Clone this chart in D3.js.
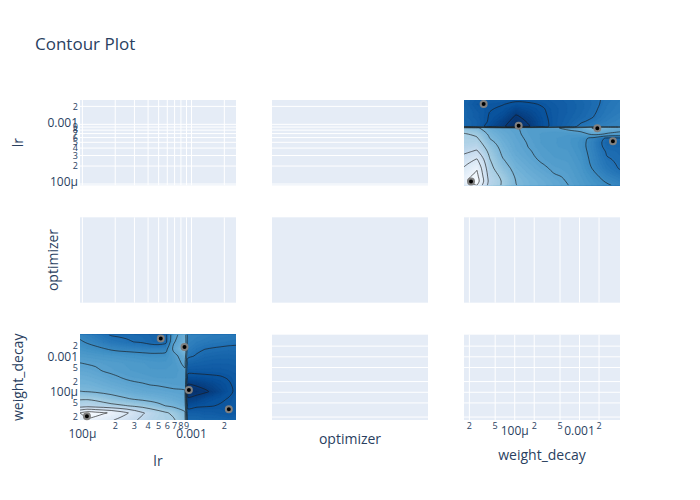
<!DOCTYPE html>
<html>
<head>
<meta charset="utf-8">
<script src="https://cdn.jsdelivr.net/npm/d3@7"></script>
<style>
html,body{margin:0;padding:0;background:#fff;}
svg text{font-family:"Open Sans", verdana, arial, sans-serif;fill:#2a3f5f;}
</style>
</head>
<body>
<svg id="chart" width="700" height="500"></svg>
<script>
// ---------------- data ----------------
const params = ["lr", "optimizer", "weight_decay"];

// trials (lr, weight_decay)
const trialLr = [1.10e-4, 5.23e-4, 8.63e-4, 9.47e-4, 2.20e-3];
const trialWd = [2.12e-5, 3.27e-3, 1.88e-3, 1.15e-4, 3.32e-5];

// tick values & labels
const lrTicks = [1e-4, 2e-4, 3e-4, 4e-4, 5e-4, 6e-4, 7e-4, 8e-4, 9e-4, 1e-3, 2e-3];
const lrTickLabels = ["100μ", "2", "3", "4", "5", "6", "7", "8", "9", "0.001", "2"];
const wdTicks = [2e-5, 5e-5, 1e-4, 2e-4, 5e-4, 1e-3, 2e-3];
const wdTickLabels = ["2", "5", "100μ", "2", "5", "0.001", "2"];

// axis ranges (log10)
const lrRangeExp = [-4.022, -2.592];
const wdRangeExp = [-4.782, -2.376];

// interpolation grid nodes (log10)
const lrGridExp = [-4.022, -3.9505, -3.879, -3.8075, -3.736, -3.6645, -3.593, -3.5215, -3.45, -3.3785,
                   -3.307, -3.2355, -3.164, -3.06, -3.035, -2.95, -2.8785, -2.807, -2.7355, -2.664, -2.592];
const wdGridExp = [-4.782, -4.5815, -4.381, -4.1805, -3.98, -3.7795, -3.579, -3.3785, -3.178, -2.9775,
                   -2.777, -2.5765, -2.376];

// objective surface: rows = weight_decay nodes (low -> high), columns = lr nodes (low -> high)
const zGrid = [
  [0.88, 0.93, 0.92, 0.89, 0.86, 0.83, 0.80, 0.76, 0.73, 0.70, 0.68, 0.67, 0.66, 0.58, 0.22, 0.22, 0.21, 0.21, 0.21, 0.20, 0.21],
  [0.95, 1.00, 0.98, 0.96, 0.94, 0.90, 0.86, 0.81, 0.76, 0.72, 0.69, 0.66, 0.63, 0.56, 0.19, 0.19, 0.18, 0.18, 0.17, 0.16, 0.17],
  [0.70, 0.71, 0.70, 0.69, 0.675, 0.665, 0.652, 0.635, 0.62, 0.60, 0.575, 0.548, 0.53, 0.50, 0.12, 0.14, 0.145, 0.148, 0.155, 0.16, 0.17],
  [0.64, 0.64, 0.63, 0.61, 0.59, 0.57, 0.555, 0.54, 0.53, 0.52, 0.51, 0.50, 0.49, 0.47, 0.06, 0.08, 0.11, 0.13, 0.14, 0.152, 0.17],
  [0.552, 0.548, 0.54, 0.53, 0.52, 0.51, 0.50, 0.49, 0.48, 0.475, 0.47, 0.465, 0.46, 0.455, 0.01, 0.02, 0.035, 0.065, 0.10, 0.135, 0.16],
  [0.52, 0.518, 0.51, 0.50, 0.49, 0.48, 0.47, 0.46, 0.455, 0.448, 0.445, 0.44, 0.435, 0.43, 0.045, 0.06, 0.08, 0.10, 0.12, 0.14, 0.165],
  [0.50, 0.495, 0.485, 0.475, 0.46, 0.452, 0.44, 0.435, 0.43, 0.425, 0.42, 0.42, 0.42, 0.43, 0.13, 0.13, 0.135, 0.14, 0.145, 0.155, 0.17],
  [0.475, 0.47, 0.46, 0.445, 0.44, 0.43, 0.425, 0.42, 0.415, 0.41, 0.41, 0.41, 0.41, 0.44, 0.17, 0.17, 0.17, 0.17, 0.17, 0.175, 0.18],
  [0.451, 0.445, 0.44, 0.435, 0.43, 0.425, 0.42, 0.415, 0.41, 0.405, 0.40, 0.40, 0.41, 0.47, 0.21, 0.20, 0.195, 0.19, 0.19, 0.19, 0.195],
  [0.42, 0.415, 0.41, 0.405, 0.40, 0.395, 0.39, 0.385, 0.38, 0.375, 0.375, 0.38, 0.42, 0.50, 0.27, 0.24, 0.22, 0.215, 0.21, 0.21, 0.215],
  [0.39, 0.38, 0.37, 0.355, 0.34, 0.33, 0.325, 0.32, 0.315, 0.31, 0.31, 0.32, 0.47, 0.56, 0.30, 0.27, 0.252, 0.245, 0.24, 0.235, 0.235],
  [0.36, 0.34, 0.32, 0.30, 0.28, 0.27, 0.26, 0.248, 0.24, 0.22, 0.21, 0.23, 0.44, 0.52, 0.32, 0.30, 0.29, 0.28, 0.275, 0.27, 0.265],
  [0.33, 0.31, 0.29, 0.262, 0.245, 0.24, 0.235, 0.23, 0.225, 0.215, 0.205, 0.23, 0.42, 0.50, 0.33, 0.32, 0.31, 0.30, 0.295, 0.29, 0.285]
];
const contourLevels = [0.05, 0.15, 0.25, 0.35, 0.45, 0.55, 0.65, 0.75, 0.85, 0.95];

// Blues colour scale (dark = low)
const bluesReversed = ["#08306b", "#08519c", "#2171b5", "#4292c6", "#6baed6", "#9ecae1", "#c6dbef", "#deebf7", "#f7fbff"];

// ---------------- layout ----------------
const svg = d3.select("#chart");
const defs = svg.append("defs");
const colX = [[80, 236], [272, 428], [464, 620]];
const rowY = [[100, 185.33], [217.33, 302.67], [334.67, 420]];

const axisInfo = {
  lr: { log: true, rangeExp: lrRangeExp, ticks: lrTicks, labels: lrTickLabels, nodes: lrGridExp, majorShiftY: -2, majorBaseX: 18 },
  optimizer: { log: false },
  weight_decay: { log: true, rangeExp: wdRangeExp, ticks: wdTicks, labels: wdTickLabels, nodes: wdGridExp, majorShiftY: 0, majorBaseX: 15 }
};
const isMajor = t => Math.abs(Math.log10(t) - Math.round(Math.log10(t))) < 1e-9;

const allZ = zGrid.flat();
const [zMin, zMax] = d3.extent(allZ);
const color = d3.scaleLinear()
  .domain(bluesReversed.map((_, k) => zMin + (zMax - zMin) * k / (bluesReversed.length - 1)))
  .range(bluesReversed)
  .interpolate(d3.interpolateRgb);

function splitRing(ring, nx, ny) {
  let pts = ring.slice();
  const f = pts[0], l = pts[pts.length - 1];
  if (pts.length > 1 && f[0] === l[0] && f[1] === l[1]) pts = pts.slice(0, -1);
  const onB = p => p[0] <= 0 || p[0] >= nx || p[1] <= 0 || p[1] >= ny;
  const n = pts.length;
  const b = pts.findIndex(onB);
  if (b < 0) return { closed: true, parts: [pts] };
  const parts = [];
  let cur = [];
  for (let k = 1; k <= n; k++) {
    const p = pts[(b + k) % n];
    if (onB(p)) { if (cur.length > 1) parts.push(cur); cur = []; }
    else cur.push(p);
  }
  if (cur.length > 1) parts.push(cur);
  return { closed: false, parts };
}

function drawContour(g, xp, yp, xs, ys, box, id) {
  const xn = axisInfo[xp].nodes, yn = axisInfo[yp].nodes;
  const nx = xn.length, ny = yn.length;
  const values = new Array(nx * ny);
  for (let iy = 0; iy < ny; iy++) for (let ix = 0; ix < nx; ix++) {
    values[ix + iy * nx] = xp === "lr" ? zGrid[iy][ix] : zGrid[ix][iy];
  }
  const sx = d3.scaleLinear().domain(xn.map((_, k) => k + 0.5)).range(xn.map(e => xs(Math.pow(10, e))));
  const sy = d3.scaleLinear().domain(yn.map((_, k) => k + 0.5)).range(yn.map(e => ys(Math.pow(10, e))));

  defs.append("clipPath").attr("id", id).append("rect")
    .attr("x", box[0]).attr("y", box[2]).attr("width", box[1] - box[0]).attr("height", box[3] - box[2]);
  const cg = g.append("g").attr("clip-path", `url(#${id})`);

  const proj = d3.geoTransform({ point: function (x, y) { this.stream.point(sx(x), sy(y)); } });
  const path = d3.geoPath(proj);
  const nb = 72;
  const step = (zMax - zMin) / nb;
  const bandThr = d3.range(nb).map(k => zMin + step * k);
  const bands = d3.contours().size([nx, ny]).thresholds(bandThr)(values);
  cg.selectAll("path.band").data(bands).join("path")
    .attr("class", "band")
    .attr("d", path)
    .attr("fill", d => color(d.value + step / 2))
    .attr("stroke", d => color(d.value + step / 2))
    .attr("stroke-width", 0.3);

  const lineOpen = d3.line().x(p => sx(p[0])).y(p => sy(p[1])).curve(d3.curveCatmullRom.alpha(0.5));
  const lineClosed = d3.line().x(p => sx(p[0])).y(p => sy(p[1])).curve(d3.curveCatmullRomClosed.alpha(0.5));
  const iso = d3.contours().size([nx, ny]).thresholds(contourLevels)(values);
  const lg = cg.append("g").attr("fill", "none").attr("stroke", "rgba(25,25,25,0.8)").attr("stroke-width", 0.8);
  iso.forEach(mp => mp.coordinates.forEach(poly => poly.forEach(ring => {
    const res = splitRing(ring, nx, ny);
    res.parts.forEach(part => {
      lg.append("path").attr("d", res.closed ? lineClosed(part) : lineOpen(part));
    });
  })));

  // trial markers
  const pts = trialLr.map((lr, k) => ({ lr: lr, wd: trialWd[k] }));
  g.selectAll("circle.trial").data(pts).join("circle")
    .attr("class", "trial")
    .attr("cx", d => xs(xp === "lr" ? d.lr : d.wd))
    .attr("cy", d => ys(yp === "lr" ? d.lr : d.wd))
    .attr("r", 3)
    .attr("fill", "black")
    .attr("stroke", "#808080")
    .attr("stroke-width", 2);
}

params.forEach((yp, r) => {
  params.forEach((xp, c) => {
    const [x0, x1] = colX[c];
    const [yTop, yBot] = rowY[r];
    const g = svg.append("g");
    g.append("rect").attr("x", x0).attr("y", yTop).attr("width", x1 - x0).attr("height", yBot - yTop).attr("fill", "#E5ECF6");
    const ax = axisInfo[xp], ay = axisInfo[yp];
    const xs = ax.log ? d3.scaleLog().domain(ax.rangeExp.map(e => Math.pow(10, e))).range([x0, x1]) : null;
    const ys = ay.log ? d3.scaleLog().domain(ay.rangeExp.map(e => Math.pow(10, e))).range([yBot, yTop]) : null;
    if (xs) {
      g.selectAll(null).data(ax.ticks).join("line")
        .attr("x1", t => xs(t)).attr("x2", t => xs(t)).attr("y1", yTop).attr("y2", yBot)
        .attr("stroke", "#fff").attr("stroke-width", 1);
    }
    if (ys) {
      g.selectAll(null).data(ay.ticks).join("line")
        .attr("y1", t => ys(t)).attr("y2", t => ys(t)).attr("x1", x0).attr("x2", x1)
        .attr("stroke", "#fff").attr("stroke-width", 1);
    }
    if (xs && ys && xp !== yp) drawContour(g, xp, yp, xs, ys, [x0, x1, yTop, yBot], `clip${r}${c}`);

    if (c === 0 && ys) {
      g.selectAll(null).data(ay.ticks).join("text")
        .attr("x", x0 - 2)
        .attr("y", t => ys(t) + (isMajor(t) ? ay.majorShiftY : 0))
        .attr("dy", "0.35em")
        .attr("text-anchor", "end")
        .attr("font-size", t => isMajor(t) ? 12 : 9)
        .text((t, k) => ay.labels[k]);
    }
    if (r === 2 && xs) {
      g.selectAll(null).data(ax.ticks).join("text")
        .attr("x", t => xs(t))
        .attr("y", t => yBot + (isMajor(t) ? ax.majorBaseX : 9))
        .attr("text-anchor", "middle")
        .attr("font-size", t => isMajor(t) ? 12 : 9)
        .text((t, k) => ax.labels[k]);
    }
  });
});

// titles
svg.append("text").attr("x", 35).attr("y", 50).attr("font-size", 17).text("Contour Plot");
const yTitleX = [23, 58, 23];
params.forEach((p, r) => {
  const cy = (rowY[r][0] + rowY[r][1]) / 2;
  svg.append("text").attr("transform", `translate(${yTitleX[r]},${cy}) rotate(-90)`)
    .attr("text-anchor", "middle").attr("font-size", 14).text(p);
});
const xTitleY = [466, 444, 460];
params.forEach((p, c) => {
  const cx = (colX[c][0] + colX[c][1]) / 2;
  svg.append("text").attr("x", cx).attr("y", xTitleY[c])
    .attr("text-anchor", "middle").attr("font-size", 14).text(p);
});
</script>
</body>
</html>
